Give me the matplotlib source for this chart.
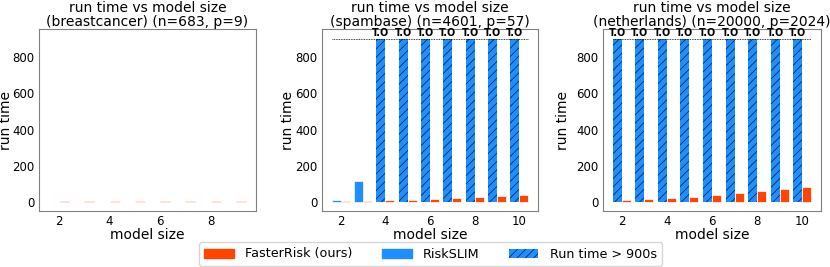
import matplotlib.pyplot as plt
import matplotlib.patches as mpatches
import numpy as np

# model sizes per dataset
sizes_bc = [2, 3, 4, 5, 6, 7, 8, 9]
sizes_sp = [2, 3, 4, 5, 6, 7, 8, 9, 10]
sizes_nl = [2, 3, 4, 5, 6, 7, 8, 9, 10]

# run times (seconds); 900 = timed out
fr_bc = [3, 4, 4, 4, 4, 7, 4, 4]
rs_bc = [2, 2, 2, 2, 2, 2, 2, 2]
fr_sp = [5, 7, 9, 13, 18, 24, 26, 31, 37]
rs_sp = [9, 117, 900, 900, 900, 900, 900, 900, 900]
fr_nl = [11, 15, 22, 29, 38, 49, 62, 73, 84]
rs_nl = [900, 900, 900, 900, 900, 900, 900, 900, 900]

titles = ["run time vs model size\n(breastcancer) (n=683, p=9)",
          "run time vs model size\n(spambase) (n=4601, p=57)",
          "run time vs model size\n(netherlands) (n=20000, p=2024)"]

TIMEOUT = 900
blue = "#1E8FFF"
orange = "#FF4500"
w = 0.4

plt.rcParams['hatch.linewidth'] = 0.6

fig = plt.figure(figsize=(8.3, 2.67), dpi=100)
lefts = [39, 322, 603]
rights = [256, 538, 821]
ylab_x = [-0.122, -0.125, -0.15]
axes = []
for l, r in zip(lefts, rights):
    axes.append(fig.add_axes([l / 830, 1 - 211 / 267, (r - l) / 830, (211 - 29) / 267]))

data = [(sizes_bc, fr_bc, rs_bc), (sizes_sp, fr_sp, rs_sp), (sizes_nl, fr_nl, rs_nl)]

for ax, (sz, fr, rs), t, lx in zip(axes, data, titles, ylab_x):
    x = np.array(sz)
    rs = np.array(rs)
    to = rs >= TIMEOUT
    # RiskSLIM normal
    ax.bar(x[~to] - w / 2, rs[~to], w, color=blue, edgecolor="white", linewidth=0.5)
    # RiskSLIM timed out
    if to.any():
        ax.bar(x[to] - w / 2, rs[to], w, color=blue, edgecolor="#0a2a55",
               linewidth=0, hatch="////")
        for xi in x[to]:
            ax.text(xi - w / 2, TIMEOUT + 6, "T.O", ha="center", va="bottom",
                    fontsize=7, fontweight="bold")
        ax.hlines(TIMEOUT, x[0] - w, x[-1] + w, colors="black",
                  linestyles=(0, (1, 1)), linewidth=0.6)
    ax.bar(x + w / 2, fr, w, color=orange, edgecolor="white", linewidth=0.5)
    ax.set_ylim(-50, 955)
    ax.set_yticks([0, 200, 400, 600, 800])
    ax.set_xticks([v for v in [2, 4, 6, 8, 10] if v <= x[-1]])
    ax.tick_params(length=0, labelsize=8.5, pad=3)
    for s in ax.spines.values():
        s.set_color("#808080")
    ax.set_title(t, fontsize=10, pad=2, linespacing=1.0)
    ax.set_xlabel("model size", fontsize=10, labelpad=0)
    ax.set_ylabel("run time", fontsize=10)
    ax.yaxis.set_label_coords(lx, 0.5)

handles = [mpatches.Patch(color=orange, label="FasterRisk (ours)"),
           mpatches.Patch(color=blue, label="RiskSLIM"),
           mpatches.Patch(facecolor=blue, edgecolor="#0a2a55", linewidth=0,
                          hatch="////", label="Run time > 900s")]
fig.legend(handles=handles, loc="center", bbox_to_anchor=(0.519, 1 - 254 / 267),
           ncol=3, fontsize=9.2, frameon=True, handlelength=2.3,
           handletextpad=0.9, columnspacing=2.3, borderpad=0.4)

fig.savefig("out.png", dpi=100)
